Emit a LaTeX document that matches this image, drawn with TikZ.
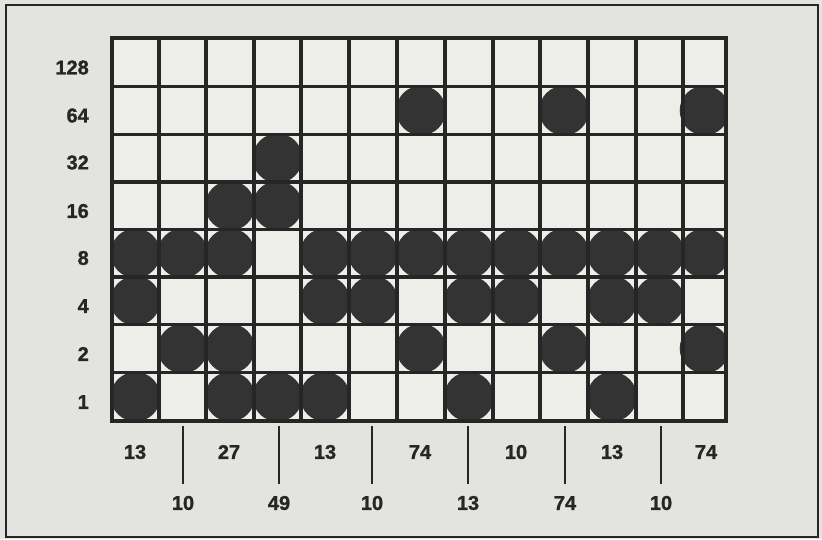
\documentclass[tikz,border=0pt]{standalone}
\usepackage{fontspec}
\setmainfont{Liberation Sans}
\newfontface\labfont{Liberation Sans Bold}[FakeBold=1.2]
\definecolor{page}{HTML}{E3E3DF}
\definecolor{cellc}{HTML}{EDEDEA}
\definecolor{ink}{HTML}{262626}
\definecolor{dotc}{HTML}{333333}
\begin{document}
\begin{tikzpicture}[x=1pt,y=-1pt,
  lab/.style={font=\labfont\fontsize{20}{20}\selectfont, text=ink, inner sep=0pt},
  gridline/.style={draw=ink, line width=3.2pt},
  tickline/.style={draw=ink, line width=2.8pt}]
\useasboundingbox (0,0) rectangle (822,539);
\fill[page] (0,0) rectangle (822,539);
\draw[ink, line width=2.2pt] (6,5) rectangle (818,537);
\fill[cellc] (112,38) rectangle (726,421);
\def\xs{{112,159,206,254,301,349,397,445,493,540,588,636,683,726}}
\def\ys{{38,86.5,134.5,182,229.5,277,324.5,372.5,421}}
% filled circles
\begin{scope}
\clip (112,38) rectangle (726,421);
\foreach \c/\r in {7/2,10/2,13/2, 4/3, 3/4,4/4,
  1/5,2/5,3/5,5/5,6/5,7/5,8/5,9/5,10/5,11/5,12/5,13/5,
  1/6,5/6,6/6,8/6,9/6,11/6,12/6,
  2/7,3/7,7/7,10/7,13/7,
  1/8,3/8,4/8,5/8,8/8,11/8}{
  \pgfmathsetmacro\xa{\xs[\c-1]}
  \pgfmathsetmacro\xb{\xs[\c]}
  \pgfmathsetmacro\ya{\ys[\r-1]}
  \pgfmathsetmacro\yb{\ys[\r]}
  \fill[dotc] ({(\xa+\xb)/2},{(\ya+\yb)/2}) circle (24.8);
}
\end{scope}
% grid
\foreach \i in {0,...,13}{
  \pgfmathsetmacro\xx{\xs[\i]}
  \draw[gridline] (\xx,38) -- (\xx,421);
}
\foreach \j in {0,...,8}{
  \pgfmathsetmacro\yy{\ys[\j]}
  \draw[gridline, line cap=rect] (112,\yy) -- (726,\yy);
}
% row labels
\foreach \v/\y in {128/67.5,64/115.5,32/162.5,16/211,8/258,4/306,2/354,1/402}{
  \node[lab, anchor=east] (row\v) at (89,\y) {\v};
}
% column values, upper row
\foreach \n/\x/\v in {1/135/13,3/229/27,5/325/13,7/420/74,9/516/10,11/612/13,13/706/74}{
  \node[lab] (col\n) at (\x,452) {\v};
}
% column values, lower row
\foreach \n/\x/\v in {2/183/10,4/279/49,6/372/10,8/468/13,10/565/74,12/661/10}{
  \node[lab] (col\n) at (\x,503) {\v};
  \coordinate (tk\n) at (\x,426);
  \draw[tickline] (tk\n) -- (\x,484);
}
\end{tikzpicture}
\end{document}
